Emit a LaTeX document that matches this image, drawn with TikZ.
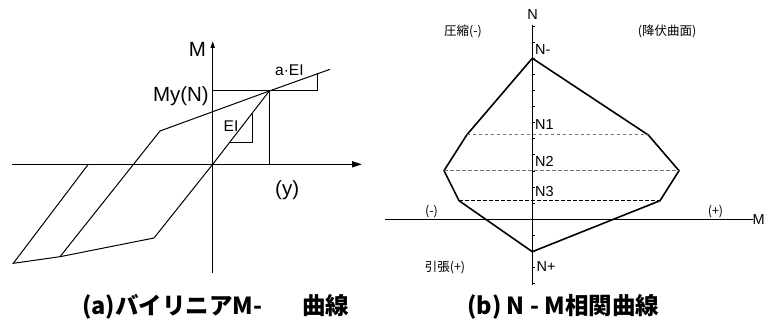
\documentclass[tikz,border=0pt]{standalone}
\usepackage{fontspec}
\setmainfont{Liberation Sans}
\newfontfamily\jp{Noto Sans CJK JP}
\usetikzlibrary{arrows.meta}
\begin{document}
\begin{tikzpicture}[x=1pt,y=-1pt,
  axisline/.style={line width=1.5pt},
  thinline/.style={line width=1pt},
  graphline/.style={line width=1.6pt},
  dashline/.style={line width=1pt, dash pattern=on 3.5pt off 2.5pt},
  biglbl/.style={inner sep=0pt, font=\fontsize{20.5}{24}\selectfont},
  midlbl/.style={inner sep=0pt, font=\fontsize{15.5}{18}\selectfont},
  smalllbl/.style={inner sep=0pt, font=\fontsize{14.5}{17}\selectfont},
  jplbl/.style={inner sep=0pt, font=\jp\fontsize{12.5}{15}\selectfont},
  caption/.style={inner sep=0pt, font=\jp\bfseries\fontsize{23.5}{28}\selectfont}]
\useasboundingbox (0,0) rectangle (775,323);

% ---------- (a) bilinear M-phi ----------
\coordinate (O) at (212.7,164.3);
\coordinate (Xl) at (11.7,164.3);
\coordinate (Xr) at (362,164.3);
\coordinate (Mt) at (212.7,41);
\coordinate (Mb) at (212.7,273);
\coordinate (Y) at (269.3,91);
\coordinate (Yx) at (212.7,91);
\coordinate (Yb) at (269.3,164.3);
\coordinate (A) at (330,69.3);
\coordinate (B) at (160,131);
\coordinate (C) at (154,238);
\coordinate (D) at (60,256.7);
\coordinate (E) at (13.3,263.3);
\coordinate (F) at (88.3,164.3);
\coordinate (T1) at (317.7,91);
\coordinate (T2) at (317.7,73.3);
\coordinate (S1) at (252.7,114);
\coordinate (S2) at (252.7,142.7);
\coordinate (S3) at (230,142.7);

\draw[axisline,-{Triangle[length=10pt,width=6pt]}] (Xl) -- (Xr);
\draw[axisline,-{Triangle[length=7pt,width=4pt]}] (Mb) -- (Mt);
\draw[thinline] (B) -- (Y) -- (A);
\draw[thinline] (F) -- (E) -- (D) -- (C) -- (O) -- (Y);
\draw[thinline] (D) -- (B);
\draw[thinline] (Yx) -- (Y) -- (Yb);
\draw[thinline] (Y) -- (T1) -- (T2);
\draw[thinline] (S1) -- (S2) -- (S3);

\node[biglbl, anchor=base] (lM) at (197.5,57) {M};
\node[biglbl, anchor=base east] (lMy) at (209,101.7) {My(N)};
\node[midlbl, anchor=base west] (laEI) at (275,76) {a·EI};
\node[midlbl, anchor=base west] (lEI) at (223.5,131.7) {EI};
\node[biglbl, anchor=base west] (ly) at (275,195) {(y)};

\node[caption, anchor=west] (capa) at (82,307) {(a)バイリニアM-\hspace{1.7em}曲線};

% ---------- (b) N-M interaction ----------
\coordinate (Nt) at (532.3,25);
\coordinate (Nb) at (532.3,285);
\coordinate (Ml) at (385,219.3);
\coordinate (Mr) at (752.7,219.3);
\coordinate (P0) at (532.3,58.3);
\coordinate (P1) at (648.3,135);
\coordinate (P2) at (679,170.7);
\coordinate (P3) at (660,200.7);
\coordinate (P4) at (532.3,251.7);
\coordinate (P5) at (459,200.7);
\coordinate (P6) at (444,170.7);
\coordinate (P7) at (466.7,135);

\draw[graphline] (Nt) -- (Nb);
\draw[graphline] (Ml) -- (Mr);
\foreach \k in {-2,...,14} {
  \draw[line width=0.9pt] (532.3,58.3+16.1*\k) -- ++(2.8,0);
}
\draw[graphline, line join=miter] (P0) -- (P1) -- (P2) -- (P3) -- (P4) -- (P5) -- (P6) -- (P7) -- cycle;
\draw[dashline, black!55] (P7) -- (P1);
\draw[dashline, black!55] (P6) -- (P2);
\draw[dashline, black] (P5) -- (P3);

\node[smalllbl, anchor=base] (lN) at (532.5,20) {N};
\node[smalllbl, anchor=west] (lMr) at (752.5,219.8) {M};
\node[smalllbl, anchor=base west] (lNm) at (535,55) {N-};
\node[smalllbl, anchor=base west] (lN1) at (535,130) {N1};
\node[smalllbl, anchor=base west] (lN2) at (535,166.7) {N2};
\node[smalllbl, anchor=base west] (lN3) at (535,196.7) {N3};
\node[smalllbl, anchor=base west] (lNp) at (536.5,271.7) {N+};
\node[jplbl] (lcomp) at (463,31.5) {圧縮(-)};
\node[jplbl] (lyield) at (667,31.5) {(降伏曲面)};
\node[jplbl] (lminus) at (431.5,211.7) {(-)};
\node[jplbl] (lplus) at (715.5,211.7) {(+)};
\node[jplbl] (lten) at (445,268) {引張(+)};

\node[caption, anchor=west] (capb) at (467,307) {(b) N - M相関曲線};
\end{tikzpicture}
\end{document}
